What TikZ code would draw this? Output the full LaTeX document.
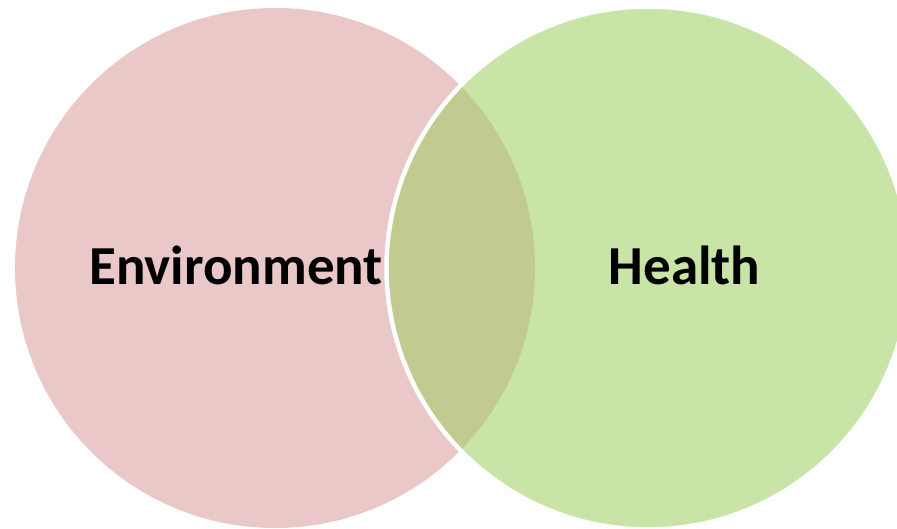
\documentclass[tikz,border=0pt]{standalone}
\usepackage{fontspec}
\setmainfont{Carlito}
\definecolor{pinkc}{HTML}{EBC8C8}
\definecolor{greenc}{HTML}{C9E4A7}
\definecolor{overc}{HTML}{C2CB8F}
\tikzset{lbl/.style={font=\fontsize{55}{60}\selectfont\bfseries, text=black, inner sep=0pt, anchor=base}}
\begin{document}
\begin{tikzpicture}[x=1pt,y=-1pt]
\useasboundingbox (0,0) rectangle (897,528);
\clip (0,0) rectangle (897,528);
\coordinate (cl) at (275,268);
\coordinate (cr) at (648,268);
\fill[pinkc] (cl) circle[radius=260];
\fill[greenc] (cr) circle[radius=261];
\begin{scope}
\clip (cl) circle[radius=260];
\fill[overc] (cr) circle[radius=261];
\end{scope}
\draw[white, line width=4.5pt] (cr) circle[radius=261.5];
\node[lbl] (env) at (236,284) {Environment};
\node[lbl] (hea) at (684.5,284) {Health};
\end{tikzpicture}
\end{document}
